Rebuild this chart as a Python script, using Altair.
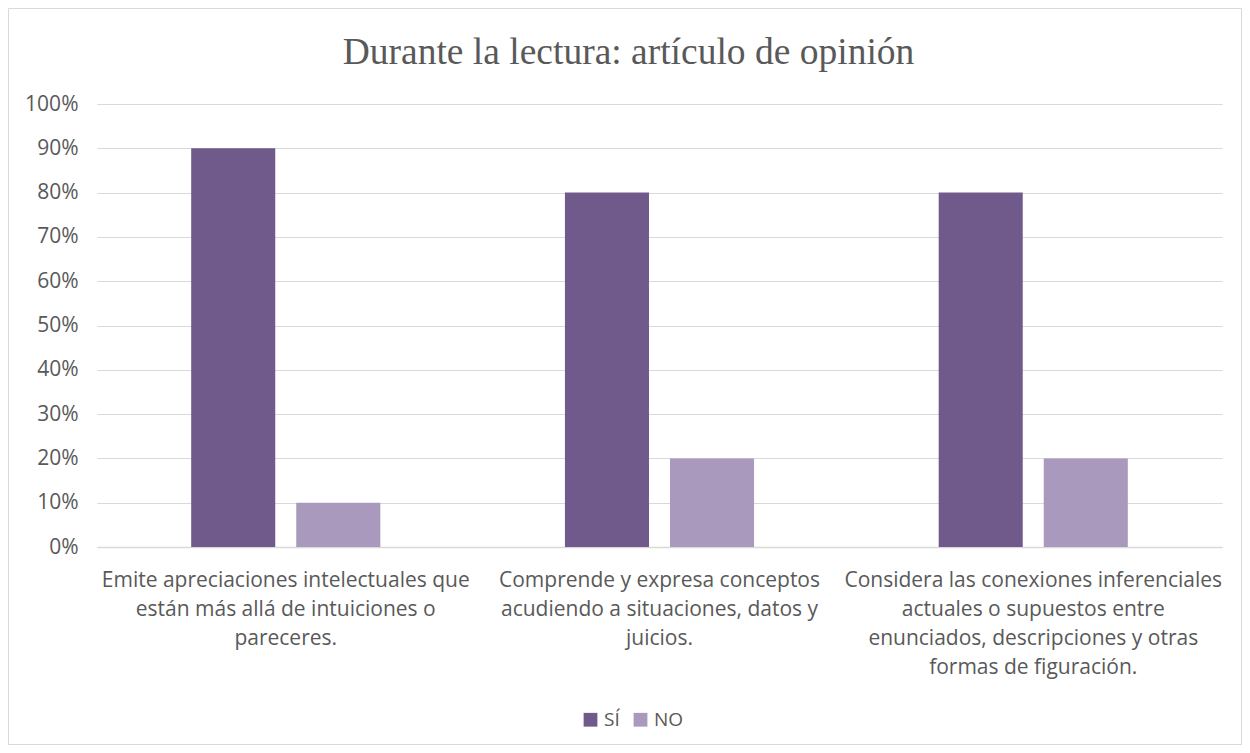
import altair as alt
import pandas as pd

categories = [
    "Emite apreciaciones intelectuales que|están más allá de intuiciones o|pareceres.",
    "Comprende y expresa conceptos|acudiendo a situaciones, datos y|juicios.",
    "Considera las conexiones inferenciales|actuales o supuestos entre|enunciados, descripciones y otras|formas de figuración.",
]
series = ["SÍ", "NO"]
si_values = [0.90, 0.80, 0.80]
no_values = [0.10, 0.20, 0.20]
colors = ["#705A8C", "#A899BD"]
y_ticks = [i / 10 for i in range(11)]

rows = []
for c, s, n in zip(categories, si_values, no_values):
    rows.append({"cat": c, "serie": "SÍ", "val": s})
    rows.append({"cat": c, "serie": "NO", "val": n})
df = pd.DataFrame(rows)

FONT = "Open Sans"
TXT = "#595959"

W, H = 1125, 443
PL, PT = 89, 96

bars = alt.Chart(df).mark_bar().encode(
    x=alt.X("cat:N", sort=categories, title=None,
            scale=alt.Scale(paddingInner=0.494, paddingOuter=0.252),
            axis=alt.Axis(labelAngle=0, labelExpr="split(datum.label, '|')",
                          labelFont=FONT, labelFontSize=21, labelColor=TXT,
                          labelLineHeight=29.3, labelPadding=22, labelLimit=500,
                          ticks=False, domain=True, domainColor="#D9D9D9",
                          domainWidth=1.5, labelBaseline="top")),
    xOffset=alt.XOffset("serie:N", sort=series,
                        scale=alt.Scale(domain=series, paddingInner=0.2)),
    y=alt.Y("val:Q", title=None,
            scale=alt.Scale(domain=[0, 1], nice=False),
            axis=alt.Axis(format=".0%", values=y_ticks, grid=True,
                          gridColor="#D9D9D9", gridWidth=1, domain=False,
                          ticks=False, labelFont=FONT, labelFontSize=21,
                          labelColor=TXT, labelPadding=19)),
    color=alt.Color("serie:N", sort=series,
                    scale=alt.Scale(domain=series, range=colors),
                    legend=alt.Legend(title=None, orient="none", direction="horizontal",
                                      legendX=484, legendY=606,
                                      symbolType="square", symbolSize=190,
                                      symbolStrokeWidth=0, labelFont=FONT,
                                      labelFontSize=19, labelColor=TXT,
                                      columnPadding=11, labelOffset=4)),
)

frame = alt.Chart(alt.Data(values=[{}])).mark_rect(
    fill=None, stroke="#D9D9D9", strokeWidth=1
).encode(
    x=alt.value(-PL + 0.5), x2=alt.value(1234 - PL - 0.5),
    y=alt.value(-PT + 0.5), y2=alt.value(737 - PT - 0.5),
)

chart = alt.layer(frame, bars).properties(
    width=W, height=H,
    padding={"left": PL, "top": PT, "right": 1234 - PL - W, "bottom": 737 - PT - H},
    autosize=alt.AutoSizeParams(type="none"),
    title=alt.Title("Durante la lectura: artículo de opinión",
                    font="Liberation Serif", fontSize=37.5, fontWeight="normal",
                    color=TXT, anchor="middle", offset=0, dy=63, dx=-31),
).configure_view(stroke=None)

chart.save("out.html", embed_options={"renderer": "svg", "actions": False})
